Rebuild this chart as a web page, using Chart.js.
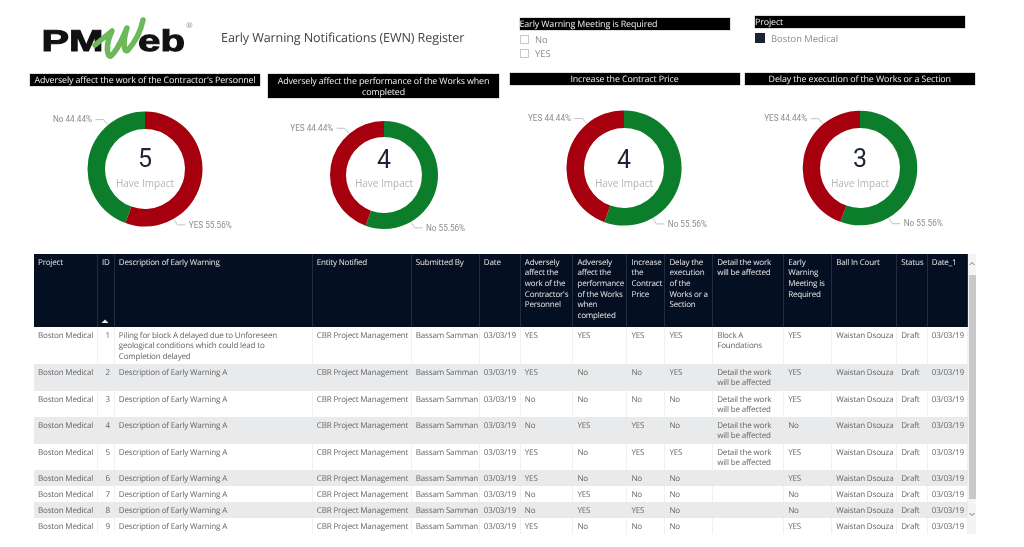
<!DOCTYPE html>
<html><head><meta charset="utf-8">
<script src="https://cdn.jsdelivr.net/npm/chart.js@4/dist/chart.umd.min.js"></script>
<style>
html,body{margin:0;padding:0;background:#fff;width:1024px;height:547px;overflow:hidden;font-family:"Open Sans",sans-serif;text-rendering:geometricPrecision}
#page{position:absolute;left:0;top:0;width:1024px;height:547px;filter:blur(.3px)}
.abs{position:absolute}
.bar{position:absolute;background:#000;color:#f2f2f2;font-size:8.9px;line-height:11.5px;text-align:center;box-shadow:0 0 0 .5px #b8bcc4;white-space:normal;letter-spacing:-.12px}
.bar.left{text-align:left}
canvas{position:absolute}
#tbl{position:absolute;left:34px;top:254px;width:934px;border-collapse:collapse;table-layout:fixed;font-size:8.05px;line-height:10.67px;color:#666;letter-spacing:-.18px}
#tbl th{background:#050f22;color:#e6e6e6;font-weight:400;text-align:left;vertical-align:top;padding:3.5px 0 0 4px;border-right:1px solid #232c3e;height:69.5px;overflow:hidden;letter-spacing:-.2px}
#tbl td{padding:3.5px 0 0 4px;vertical-align:top;border-right:1px solid #f0f1f2;overflow:hidden;box-sizing:border-box}
#tbl tr.alt td{background:#e9eaec;border-right-color:#e9eaec}
#tbl td.num{text-align:right;padding-right:4px;padding-left:0}
#tbl td.nw{white-space:nowrap}
.box{position:absolute;box-sizing:border-box;border:1px solid #c8c8c8;background:#fff}
.lab{position:absolute;color:#8a8a8a;font-size:9.4px;line-height:12px;white-space:nowrap}
</style></head><body><div id="page">
<svg class="abs" style="left:36px;top:14px" width="165" height="50" viewBox="0 0 165 50">
<text x="5.5" y="37" font-family="Liberation Sans" font-weight="700" font-size="30" textLength="62" lengthAdjust="spacingAndGlyphs" stroke="#111" stroke-width="1" fill="#111">PM</text>
<text x="102" y="37" font-family="Liberation Sans" font-weight="700" font-size="30" textLength="47" lengthAdjust="spacingAndGlyphs" stroke="#111" stroke-width="1" fill="#111">eb</text>
<path d="M59 31 L76 17 C69 31 71 44 75 42 C82 36 86 25 91 14 C87 26 87 40 92 36 C99 28 105 16 107 6" fill="none" stroke="#6cb85a" stroke-width="5.5" stroke-linejoin="round" stroke-linecap="round"/>
<text x="150" y="14" font-family="Open Sans" font-size="8" fill="#888">®</text>
</svg>
<div class="abs" id="pageTitle" style="left:221px;top:28px;font-size:12.6px;line-height:20px;color:#444;white-space:nowrap;letter-spacing:-.12px"></div>
<div id="ui"></div>
<canvas id="d0"></canvas><canvas id="d1"></canvas><canvas id="d2"></canvas><canvas id="d3"></canvas>
<table id="tbl"></table>
<div class="abs" style="left:968px;top:254px;width:8px;height:280px;background:#f4f4f4"></div>
<div class="abs" style="left:968.5px;top:275px;width:7px;height:224px;background:#c9c9c9"></div>
<svg class="abs" style="left:968px;top:260px" width="8" height="8"><path d="M1.5 5 L4 2.5 L6.5 5" fill="none" stroke="#777" stroke-width="1"/></svg>
<svg class="abs" style="left:968px;top:510px" width="8" height="8"><path d="M1.5 3 L4 5.5 L6.5 3" fill="none" stroke="#777" stroke-width="1"/></svg>
<svg class="abs" style="left:101px;top:318px" width="8" height="6"><path d="M0.5 5 L4 1.5 L7.5 5Z" fill="#eee"/></svg>
</div>
<script>
// ---------- donut data ----------
const donutTitles = ["Adversely affect the work of the Contractor's Personnel","Adversely affect the performance of the Works when completed","Increase the Contract Price","Delay the execution of the Works or a Section"];
const donutCenters = ["5","4","4","3"];
const donutCaption = "Have Impact";
const donut1Labels = ["YES","No"]; const donut1Values = [5,4]; const donut1Pct = ["55.56%","44.44%"];
const donut2Labels = ["No","YES"]; const donut2Values = [5,4]; const donut2Pct = ["55.56%","44.44%"];
const donut3Labels = ["No","YES"]; const donut3Values = [5,4]; const donut3Pct = ["55.56%","44.44%"];
const donut4Labels = ["No","YES"]; const donut4Values = [5,4]; const donut4Pct = ["55.56%","44.44%"];
// ---------- table data ----------
const tblHeaders = ["Project","ID","Description of Early Warning","Entity Notified","Submitted By","Date","Adversely affect the work of the Contractor's Personnel","Adversely affect the performance of the Works when completed","Increase the Contract Price","Delay the execution of the Works or a Section","Detail the work will be affected","Early Warning Meeting is Required","Ball In Court","Status","Date_1"];
const colProject = Array(9).fill("Boston Medical");
const colId = ["1","2","3","4","5","6","7","8","9"];
const colDesc = ["Piling for block A delayed due to Unforeseen geological conditions which could lead to Completion delayed","Description of Early Warning A","Description of Early Warning A","Description of Early Warning A","Description of Early Warning A","Description of Early Warning A","Description of Early Warning A","Description of Early Warning A","Description of Early Warning A"];
const colEntity = Array(9).fill("CBR Project Management");
const colBy = Array(9).fill("Bassam Samman");
const colDate = Array(9).fill("03/03/19");
const colPersonnel = ["YES","YES","No","No","YES","YES","No","No","YES"];
const colPerformance = ["YES","No","No","YES","No","No","YES","YES","No"];
const colPrice = ["YES","No","No","YES","YES","No","No","YES","No"];
const colDelay = ["YES","YES","No","No","YES","No","No","No","No"];
const colDetail = ["Block A Foundations","Detail the work will be affected","Detail the work will be affected","Detail the work will be affected","Detail the work will be affected","","","",""];
const colMeeting = ["YES","YES","YES","No","YES","YES","No","No","YES"];
const colBall = Array(9).fill("Waistan Dsouza");
const colStatus = Array(9).fill("Draft");
const colDate1 = Array(9).fill("03/03/19");
const slicer1Title = "Early Warning Meeting is Required"; const slicer1Items = ["No","YES"];
const slicer2Title = "Project"; const slicer2Items = ["Boston Medical"];
const pageTitleText = "Early Warning Notifications (EWN) Register";

document.getElementById('pageTitle').textContent = pageTitleText;
const ui = document.getElementById('ui');
function el(cls,l,t,w,h,txt,extra){const d=document.createElement('div');d.className=cls;d.style.cssText=`left:${l}px;top:${t}px;`+(w?`width:${w}px;`:'')+(h?`height:${h}px;`:'')+(extra||'');if(txt)d.textContent=txt;ui.appendChild(d);return d;}
const barPos=[[30,74,230,12],[268,74,231,24],[509.5,72.5,230,12.5],[745,72.5,229.5,12.5]];
donutTitles.forEach((t,i)=>{const b=barPos[i];el('bar',b[0],b[1],b[2],b[3],t,i==1?'padding-top:.5px;height:23.5px;':'');});
el('bar left',519.5,17.5,210,12,slicer1Title);
el('bar left',755,16,210,12,slicer2Title);
el('box',520,34.5,9,9); el('box',520,49,9,9);
el('lab',535,34,0,0,slicer1Items[0]); el('lab',535,48,0,0,slicer1Items[1]);
el('box',755,33,10,10,'','background:#1a2233;border-color:#1a2233');
el('lab',771,33,0,0,slicer2Items[0]);

// table
const colEdges=[34,97.5,114.3,312.3,411.3,479.3,520.3,573,627,665,712.7,783.7,831.7,896.7,927.3,968];
const rowH=[37,27,26,27,26,16,16,16,16];
const columns=[colProject,colId,colDesc,colEntity,colBy,colDate,colPersonnel,colPerformance,colPrice,colDelay,colDetail,colMeeting,colBall,colStatus,colDate1];
const tbl=document.getElementById('tbl');
const cg=document.createElement('colgroup');
colEdges.slice(1).forEach((e,i)=>{const c=document.createElement('col');c.style.width=(e-colEdges[i])+'px';cg.appendChild(c);});
tbl.appendChild(cg);
const hr=document.createElement('tr');
tblHeaders.forEach(h=>{const th=document.createElement('th');th.textContent=h;hr.appendChild(th);});
tbl.appendChild(hr);
const wrapCols=[2,10];
rowH.forEach((h,r)=>{const tr=document.createElement('tr');if(r%2==1)tr.className='alt';tr.style.height=h+'px';
  columns.forEach((col,c)=>{const td=document.createElement('td');td.textContent=col[r];td.style.height=h+'px';
    if(c==1)td.className='num';else if(!wrapCols.includes(c))td.className='nw';
    if(c==2)td.style.paddingRight='28px';
    tr.appendChild(td);});
  tbl.appendChild(tr);});

// donuts
const RED='#a6000f', GREEN='#0b7d2b';
const donutSets=[
 {lab:donut1Labels,val:donut1Values,pct:donut1Pct,cx:145,cy:168.5,r:57.5,ir:40},
 {lab:donut2Labels,val:donut2Values,pct:donut2Pct,cx:383.6,cy:174.7,r:54,ir:38},
 {lab:donut3Labels,val:donut3Values,pct:donut3Pct,cx:624.3,cy:167.7,r:57.6,ir:40},
 {lab:donut4Labels,val:donut4Values,pct:donut4Pct,cx:860,cy:167.5,r:57.3,ir:40}];
const callouts={id:'callouts',afterDraw(ch,a,o){
  const c=ch.ctx,s=o.set,m=ch.getDatasetMeta(0).data[0],x=m.x,y=m.y;
  c.save();c.textAlign='center';c.textBaseline='middle';
  c.fillStyle='#1c2436';c.font='25px Roboto';c.fillText(o.center,x,o.numY);
  c.fillStyle='#b4b4b4';c.font='10px "Open Sans"';c.fillText(donutCaption,x,o.capY);
  [[0,150,1],[1,-40,-1]].forEach(([i,deg,side])=>{
    const a=deg*Math.PI/180,sx=Math.sin(a),cy=-Math.cos(a);
    const p0=[x+(s.r+.5)*sx,y+(s.r+.5)*cy],p1=[x+(s.r+7)*sx,y+(s.r+7)*cy],p2=[p1[0]+side*8,p1[1]];
    c.strokeStyle='#b4b4b4';c.lineWidth=.8;c.beginPath();c.moveTo(...p0);c.lineTo(...p1);c.lineTo(...p2);c.stroke();
    c.fillStyle='#8d8d8d';c.font='8.2px Roboto';c.textAlign=side>0?'left':'right';
    c.fillText(s.lab[i]+' '+s.pct[i],p2[0]+side*3.5,p2[1]+.7);
  });
  c.restore();
}};
const numYs=[160.5,161.5,161,160], capYs=[184,184,183.5,183.5];
donutSets.forEach((s,i)=>{
  const cv=document.getElementById('d'+i),W=260,H=140;
  cv.style.left=(s.cx-W/2)+'px';cv.style.top=(s.cy-H/2)+'px';cv.style.width=W+'px';cv.style.height=H+'px';cv.width=W;cv.height=H;
  new Chart(cv,{type:'doughnut',plugins:[callouts],data:{labels:s.lab,datasets:[{data:s.val,
      backgroundColor:s.lab.map(l=>l==='YES'?RED:GREEN),borderWidth:0}]},
    options:{responsive:false,animation:false,radius:s.r,cutout:(100*s.ir/s.r)+'%',
      plugins:{legend:{display:false},tooltip:{enabled:false},callouts:{set:s,center:donutCenters[i],numY:numYs[i]-s.cy+H/2,capY:capYs[i]-s.cy+H/2}}}});
});
</script>
</body></html>
